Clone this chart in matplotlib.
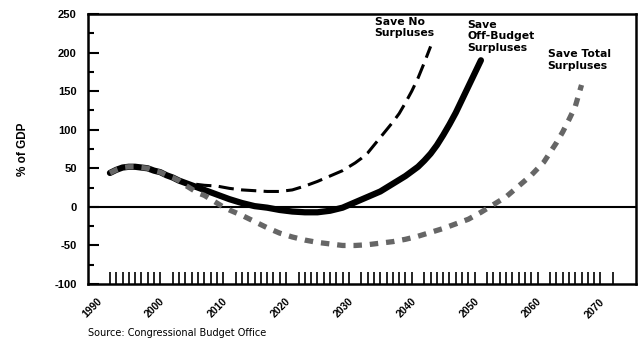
import matplotlib
matplotlib.use("Agg")
import matplotlib.pyplot as plt
from matplotlib.ticker import MultipleLocator

plt.rcParams['font.family'] = ['Liberation Sans', 'DejaVu Sans']
plt.rcParams['axes.unicode_minus'] = False

# Dívida federal (% do PIB) - três cenários
anos_comum = [1991, 1992, 1993, 1994, 1995, 1996, 1997, 1998, 1999, 2000, 2001, 2002]
valores_comum = [44, 48, 51, 52, 52, 51, 50, 47, 45, 41, 38, 34]

anos_offbudget = anos_comum + [2003, 2004, 2005, 2006, 2007, 2008, 2009, 2010, 2012, 2014, 2016,
                               2018, 2020, 2022, 2024, 2026, 2028, 2030, 2032, 2034, 2036, 2038,
                               2039, 2040, 2041, 2042, 2043, 2044, 2045, 2046, 2047, 2048, 2049, 2050]
valores_offbudget = valores_comum + [31, 28, 25, 22, 19, 16, 13, 10, 5, 1, -1,
                                     -4, -6, -7, -7, -5, -1, 6, 13, 20, 30, 40,
                                     46, 52, 60, 69, 80, 93, 107, 122, 139, 156, 173, 190]

anos_nenhum = anos_comum + [2003, 2004, 2005, 2006, 2008, 2010, 2012, 2014, 2016, 2018, 2020,
                            2022, 2024, 2026, 2028, 2030, 2031, 2032, 2033, 2034, 2035, 2036,
                            2037, 2038, 2039, 2040, 2041, 2042]
valores_nenhum = valores_comum + [31, 30, 29, 28, 27, 24, 22, 21, 20, 20, 22,
                                  27, 33, 40, 47, 57, 63, 70, 80, 90, 100, 110,
                                  121, 135, 150, 167, 187, 208]

anos_total = anos_comum + [2003, 2004, 2005, 2006, 2007, 2008, 2009, 2010, 2012, 2014, 2016,
                           2018, 2020, 2022, 2024, 2026, 2028, 2030, 2032, 2034, 2036, 2038,
                           2040, 2042, 2044, 2046, 2048, 2050, 2052, 2054, 2056, 2058, 2060,
                           2062, 2063, 2064, 2065, 2066]
valores_total = valores_comum + [28, 23, 18, 15, 10, 5, 0, -4, -11, -19, -27,
                                 -34, -39, -43, -46, -48, -50, -50, -49, -47, -45, -42,
                                 -38, -33, -28, -22, -16, -7, 3, 13, 27, 41, 58,
                                 83, 97, 113, 130, 158]

rotulos_anos = [1990, 2000, 2010, 2020, 2030, 2040, 2050, 2060, 2070]

fig = plt.figure(figsize=(6.42, 3.41), dpi=100)
ax = fig.add_axes([0.137, 0.167, 0.854, 0.792])

ax.plot(anos_offbudget, valores_offbudget, color='black', linewidth=4.5,
        solid_capstyle='round', zorder=3)
ax.plot(anos_nenhum, valores_nenhum, color='black', linewidth=2.2,
        dashes=(5, 2.4), dash_capstyle='butt', zorder=4)
ax.plot(anos_total, valores_total, color='#666666', linewidth=3.8,
        dashes=(1.6, 1.5), dash_capstyle='butt', zorder=5)

ax.axhline(0, color='black', linewidth=1.5, zorder=2)

ax.set_xlim(1987.5, 2074.7)
ax.set_ylim(-100, 250)

ax.yaxis.set_major_locator(MultipleLocator(50))
ax.yaxis.set_minor_locator(MultipleLocator(25))
ax.tick_params(axis='y', which='major', direction='in', length=8, width=1.5, pad=8,
               labelsize=8)
ax.tick_params(axis='y', which='minor', direction='in', length=4, width=1.5)
for lbl in ax.get_yticklabels():
    lbl.set_fontweight('bold')

ax.set_xticks(rotulos_anos)
ax.set_xticklabels([str(a) for a in rotulos_anos], rotation=45, ha='right',
                   va='top', fontweight='bold', fontsize=7.5)
ax.set_xticks(range(1991, 2072), minor=True)
ax.tick_params(axis='x', which='major', length=0, pad=9)
ax.tick_params(axis='x', which='minor', direction='in', length=9, width=1.2)

for s in ax.spines.values():
    s.set_linewidth(1.8)

ax.set_ylabel('% of GDP', fontweight='bold', fontsize=8.5, labelpad=18)

rotulo = dict(fontsize=7.8, fontweight='bold', family='DejaVu Sans',
              va='top', ha='left', linespacing=1.15)
ax.text(2033.1, 246, 'Save No\nSurpluses', **rotulo)
ax.text(2047.9, 242, 'Save\nOff-Budget\nSurpluses', **rotulo)
ax.text(2060.6, 204, 'Save Total\nSurpluses', **rotulo)

fig.text(0.137, 0.008, 'Source: Congressional Budget Office', fontsize=7,
         family='DejaVu Sans', ha='left', va='bottom')

fig.savefig('out.png', dpi=100)
